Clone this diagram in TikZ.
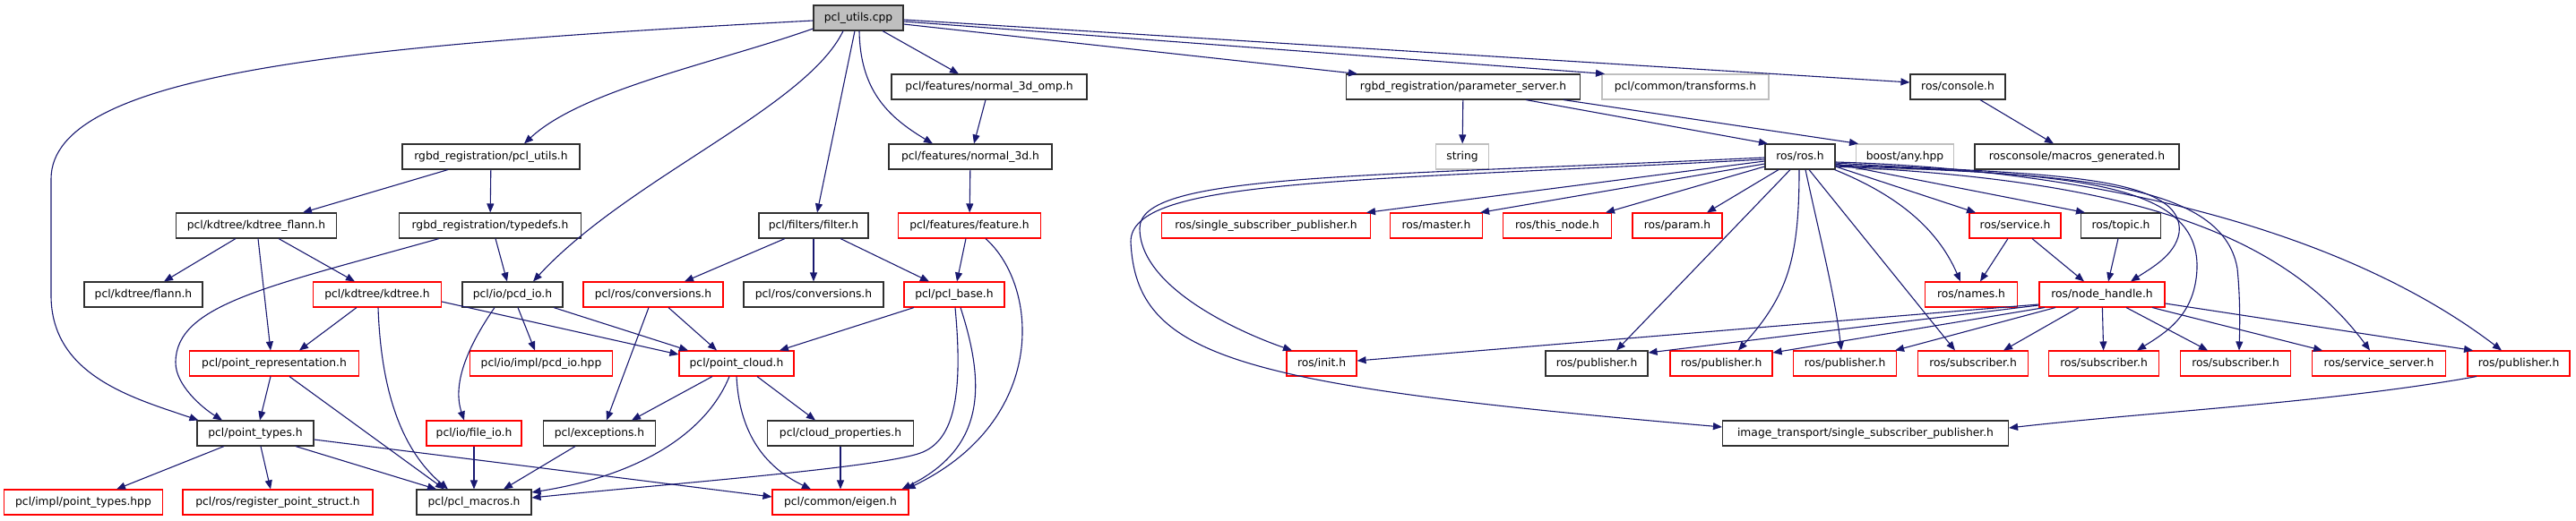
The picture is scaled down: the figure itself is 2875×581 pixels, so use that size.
\documentclass[tikz,border=0pt]{standalone}
\usepackage{fontspec}
\setmainfont{DejaVu Sans}
\usetikzlibrary{arrows.meta}
\definecolor{edgec}{HTML}{191970}
\definecolor{grayb}{HTML}{BFBFBF}
\definecolor{redb}{HTML}{FF0000}
\definecolor{blackb}{HTML}{303030}
\begin{document}
\begin{tikzpicture}[x=1pt,y=-1pt,
  box/.style={draw=blackb, line width=1.1pt, fill=white, minimum height=28pt, inner sep=0pt,
    font=\fontsize{12.3}{14}\selectfont, text height=9pt, text depth=2.5pt},
  rbox/.style={box, draw=redb},
  gbox/.style={box, draw=grayb},
  cppbox/.style={box, fill=grayb},
  e/.style={draw=edgec, line width=1.1pt, -{Triangle[length=10pt,width=8pt]}}]
\useasboundingbox (0,0) rectangle (2875,581);
% row 1
\node[cppbox, minimum width=100pt] (cpp) at (958,20) {pcl\_utils.cpp};
% row 2
\node[box, minimum width=218pt] (n3domp) at (1104,97) {pcl/features/normal\_3d\_omp.h};
\node[box, minimum width=261pt] (param) at (1633,97) {rgbd\_registration/parameter\_server.h};
\node[gbox, minimum width=186pt] (transforms) at (1881,97) {pcl/common/transforms.h};
\node[box, minimum width=106pt] (console) at (2185,97) {ros/console.h};
% row 3
\node[box, minimum width=198pt] (rpcl) at (548,175) {rgbd\_registration/pcl\_utils.h};
\node[box, minimum width=182pt] (n3d) at (1083,175) {pcl/features/normal\_3d.h};
\node[gbox, minimum width=59pt] (string) at (1632,175) {string};
\node[box, minimum width=78pt] (rosh) at (2009,175) {ros/ros.h};
\node[gbox, minimum width=109pt] (boost) at (2126,175) {boost/any.hpp};
\node[box, minimum width=228pt] (macros) at (2318,175) {rosconsole/macros\_generated.h};
% row 4
\node[box, minimum width=179pt] (kdflann) at (286,252) {pcl/kdtree/kdtree\_flann.h};
\node[box, minimum width=203pt] (typedefs) at (547,252) {rgbd\_registration/typedefs.h};
\node[box, minimum width=122pt] (filter) at (908,252) {pcl/filters/filter.h};
\node[rbox, minimum width=159pt] (feature) at (1082,252) {pcl/features/feature.h};
\node[rbox, minimum width=233pt] (ssp) at (1413,252) {ros/single\_subscriber\_publisher.h};
\node[rbox, minimum width=103pt] (master) at (1603,252) {ros/master.h};
\node[rbox, minimum width=121pt] (thisnode) at (1738,252) {ros/this\_node.h};
\node[rbox, minimum width=100pt] (paramh) at (1872,252) {ros/param.h};
\node[rbox, minimum width=102pt] (service) at (2249,252) {ros/service.h};
\node[box, minimum width=89pt] (topic) at (2367,252) {ros/topic.h};
% row 5
\node[box, minimum width=132pt] (flann) at (160,329) {pcl/kdtree/flann.h};
\node[rbox, minimum width=143pt] (kdtree) at (421,329) {pcl/kdtree/kdtree.h};
\node[box, minimum width=112pt] (pcdio) at (572,329) {pcl/io/pcd\_io.h};
\node[rbox, minimum width=156pt] (rconv) at (729,329) {pcl/ros/conversions.h};
\node[box, minimum width=156pt] (bconv) at (908,329) {pcl/ros/conversions.h};
\node[rbox, minimum width=112pt] (pclbase) at (1065,329) {pcl/pcl\_base.h};
\node[rbox, minimum width=103pt] (names) at (2200,329) {ros/names.h};
\node[rbox, minimum width=140pt] (nodeh) at (2346,329) {ros/node\_handle.h};
% row 6
\node[rbox, minimum width=189pt] (ptrep) at (306,406) {pcl/point\_representation.h};
\node[rbox, minimum width=159pt] (pcdhpp) at (604,406) {pcl/io/impl/pcd\_io.hpp};
\node[rbox, minimum width=128pt] (ptcloud) at (822,406) {pcl/point\_cloud.h};
\node[rbox, minimum width=78pt] (init) at (1475,406) {ros/init.h};
\node[box, minimum width=114pt] (pub0) at (1782,406) {ros/publisher.h};
\node[rbox, minimum width=114pt] (pub1) at (1921,406) {ros/publisher.h};
\node[rbox, minimum width=115pt] (pub2) at (2059,406) {ros/publisher.h};
\node[rbox, minimum width=123pt] (sub1) at (2202,406) {ros/subscriber.h};
\node[rbox, minimum width=123pt] (sub2) at (2348,406) {ros/subscriber.h};
\node[rbox, minimum width=123pt] (sub3) at (2495,406) {ros/subscriber.h};
\node[rbox, minimum width=149pt] (srvserver) at (2655,406) {ros/service\_server.h};
\node[rbox, minimum width=114pt] (pub3) at (2811,406) {ros/publisher.h};
% row 7
\node[box, minimum width=130pt] (pttypes) at (285,484) {pcl/point\_types.h};
\node[rbox, minimum width=106pt] (fileio) at (529,484) {pcl/io/file\_io.h};
\node[box, minimum width=125pt] (exceptions) at (669,484) {pcl/exceptions.h};
\node[box, minimum width=163pt] (cloudprop) at (938,484) {pcl/cloud\_properties.h};
\node[box, minimum width=319pt] (itssp) at (2082,484) {image\_transport/single\_subscriber\_publisher.h};
% row 8
\node[rbox, minimum width=177pt] (pthpp) at (93,561) {pcl/impl/point\_types.hpp};
\node[rbox, minimum width=212pt] (regpt) at (310,561) {pcl/ros/register\_point\_struct.h};
\node[box, minimum width=128pt] (pmacros) at (529,561) {pcl/pcl\_macros.h};
\node[rbox, minimum width=152pt] (eigen) at (938,561) {pcl/common/eigen.h};

% edges from pcl_utils.cpp
\draw[e] ([yshift=-3pt]cpp.west) .. controls (400,50) and (57,80) .. (57,200) -- (57,330) .. controls (57,420) and (150,445) .. ([xshift=2pt]pttypes.north west);
\draw[e] ([yshift=-12pt]cpp.west) .. controls (800,70) and (650,100) .. ([xshift=37pt]rpcl.north);
\draw[e] ([xshift=-17pt]cpp.south) .. controls (900,120) and (700,200) .. ([xshift=23pt]pcdio.north);
\draw[e] ([xshift=-4pt]cpp.south) -- ([xshift=4pt]filter.north);
\draw[e] ([xshift=27pt]cpp.south) -- ([xshift=-34pt]n3domp.north);
\draw[e] ([xshift=1pt]cpp.south) .. controls (960,100) and (990,130) .. ([xshift=-42pt]n3d.north);
\draw[e] ([yshift=-7pt]cpp.east) -- ([xshift=-118pt]param.north);
\draw[e] ([yshift=-4pt]cpp.east) -- ([xshift=-90pt]transforms.north);
\draw[e] ([yshift=-2pt]cpp.east) -- ([yshift=5pt]console.west);
% pcl side
\draw[e] ([xshift=-4pt]n3domp.south) -- ([xshift=4pt]n3d.north);
\draw[e] (param) -- (string);
\draw[e] ([xshift=70pt]param.south) -- ([xshift=-36pt]rosh.north);
\draw[e] ([xshift=112pt]param.south) -- ([xshift=-52pt]boost.north);
\draw[e] ([xshift=25pt]console.south) -- ([xshift=-26pt]macros.north);
\draw[e] (n3d) -- (feature);
\draw[e] ([xshift=-48pt]rpcl.south) -- ([xshift=52pt]kdflann.north);
\draw[e] (rpcl) -- (typedefs);
\draw[e] ([xshift=-23pt]kdflann.south) -- ([xshift=23pt]flann.north);
\draw[e] ([xshift=2pt]kdflann.south) -- ([xshift=-4pt]ptrep.north);
\draw[e] ([xshift=25pt]kdflann.south) -- ([xshift=-25pt]kdtree.north);
\draw[e] ([xshift=-57pt]typedefs.south) .. controls (300,320) and (196,340) .. (196,405) .. controls (196,430) and (225,455) .. ([xshift=-37pt]pttypes.north);
\draw[e] ([xshift=6pt]typedefs.south) -- ([xshift=-6pt]pcdio.north);
\draw[e] ([xshift=-32pt]filter.south) -- ([xshift=35pt]rconv.north);
\draw[e] (filter) -- (bconv);
\draw[e] ([xshift=30pt]filter.south) -- ([xshift=-28pt]pclbase.north);
\draw[e] ([xshift=-4pt]feature.south) -- ([xshift=3pt]pclbase.north);
\draw[e] ([xshift=18pt]feature.south) .. controls (1160,320) and (1170,470) .. ([xshift=-3pt]eigen.north east);
\draw[e] ([xshift=-45pt]pclbase.south) -- ([xshift=48pt]ptcloud.north);
\draw[e] ([xshift=1pt]pclbase.south) .. controls (1075,440) and (1065,490) .. (1030,505) .. controls (990,522) and (750,540) .. ([yshift=5pt]pmacros.east);
\draw[e] ([xshift=7pt]pclbase.south) .. controls (1100,430) and (1100,500) .. ([xshift=-8pt]eigen.north east);
\draw[e] ([xshift=-23pt]kdtree.south) -- ([xshift=28pt]ptrep.north);
\draw[e] ([xshift=1pt]kdtree.south) .. controls (425,430) and (445,500) .. ([xshift=-29pt]pmacros.north);
\draw[e] ([yshift=-8pt]kdtree.east) -- ([yshift=10pt]ptcloud.west);
\draw[e] ([xshift=-20pt]pcdio.south) .. controls (520,390) and (505,430) .. ([xshift=-11pt]fileio.north);
\draw[e] ([xshift=6pt]pcdio.south) -- ([xshift=-7pt]pcdhpp.north);
\draw[e] ([xshift=46pt]pcdio.south) -- ([xshift=-54pt]ptcloud.north);
\draw[e] ([xshift=-5pt]rconv.south) -- ([xshift=8pt]exceptions.north);
\draw[e] ([xshift=17pt]rconv.south) -- ([xshift=-22pt]ptcloud.north);
\draw[e] ([xshift=-4pt]ptrep.south) -- ([xshift=5pt]pttypes.north);
\draw[e] ([xshift=17pt]ptrep.south) -- ([xshift=-33pt]pmacros.north);
\draw[e] ([xshift=-27pt]ptcloud.south) -- ([xshift=36pt]exceptions.north);
\draw[e] ([xshift=-8pt]ptcloud.south) .. controls (790,480) and (720,530) .. ([yshift=11pt]pmacros.east);
\draw[e] (ptcloud.south) .. controls (825,480) and (850,520) .. ([xshift=-33pt]eigen.north);
\draw[e] ([xshift=23pt]ptcloud.south) -- ([xshift=-28pt]cloudprop.north);
\draw[e] ([xshift=-35pt]pttypes.south) -- ([xshift=37pt]pthpp.north);
\draw[e] ([xshift=6pt]pttypes.south) -- ([xshift=-8pt]regpt.north);
\draw[e] ([xshift=45pt]pttypes.south) -- ([xshift=-42pt]pmacros.north);
\draw[e] ([yshift=-7pt]pttypes.east) -- ([yshift=6pt]eigen.west);
\draw[e] (fileio) -- (pmacros);
\draw[e] ([xshift=-27pt]exceptions.south) -- ([xshift=33pt]pmacros.north);
\draw[e] (cloudprop) -- (eigen);
% ros side
\draw[e] ([yshift=-5pt]rosh.west) -- ([xshift=112pt]ssp.north);
\draw[e] ([yshift=-8pt]rosh.west) -- ([xshift=-3pt]master.north east);
\draw[e] ([yshift=-11pt]rosh.west) -- ([xshift=54pt]thisnode.north);
\draw[e] ([xshift=-24pt]rosh.south) -- ([xshift=33pt]paramh.north);
\draw[e] ([yshift=-1pt]rosh.west) .. controls (1500,198) and (1272,195) .. (1272,255) .. controls (1272,320) and (1380,370) .. ([xshift=-33pt]init.north);
\draw[e] ([yshift=-3pt]rosh.west) .. controls (1500,203) and (1262,200) .. (1262,270) .. controls (1268,400) and (1380,430) .. ([yshift=7pt]itssp.west);
\draw[e] ([xshift=-11pt]rosh.south) -- ([xshift=22pt]pub0.north);
\draw[e] ([xshift=-1pt]rosh.south) .. controls (2008,290) and (1995,330) .. ([xshift=19pt]pub1.north);
\draw[e] ([xshift=6pt]rosh.south) .. controls (2030,260) and (2048,330) .. ([xshift=-4pt]pub2.north);
\draw[e] ([xshift=10pt]rosh.south) -- ([xshift=-20pt]sub1.north);
\draw[e] ([xshift=-1pt]rosh.south east) .. controls (2110,215) and (2160,250) .. ([xshift=-12pt]names.north);
\draw[e] ([yshift=-11pt]rosh.east) -- ([xshift=-44pt]service.north);
\draw[e] ([yshift=-8pt]rosh.east) -- ([xshift=-40pt]topic.north);
\draw[e] ([yshift=-7pt]rosh.east) .. controls (2250,195) and (2440,190) .. (2432,260) .. controls (2428,285) and (2400,300) .. ([xshift=32pt]nodeh.north);
\draw[e] ([yshift=-9pt]rosh.east) .. controls (2300,195) and (2455,200) .. (2452,300) .. controls (2450,350) and (2420,370) .. ([xshift=37pt]sub2.north);
\draw[e] ([yshift=-10pt]rosh.east) .. controls (2300,195) and (2480,200) .. (2497,300) .. controls (2500,330) and (2500,360) .. ([xshift=4pt]sub3.north);
\draw[e] ([yshift=-11pt]rosh.east) .. controls (2350,200) and (2540,250) .. ([xshift=-10pt]srvserver.north);
\draw[e] ([yshift=-6pt]rosh.east) .. controls (2350,190) and (2620,260) .. ([xshift=-19pt]pub3.north);
\draw[e] ([xshift=-8pt]service.south) -- ([xshift=10pt]names.north);
\draw[e] ([xshift=19pt]service.south) -- ([xshift=-20pt]nodeh.north);
\draw[e] ([xshift=-3pt]topic.south) -- ([xshift=7pt]nodeh.north);
\draw[e] ([yshift=-11pt]nodeh.west) -- ([yshift=3pt]init.east);
\draw[e] ([yshift=-12pt]nodeh.west) -- ([yshift=12pt]pub0.east);
\draw[e] ([xshift=-64pt]nodeh.south) -- ([yshift=12pt]pub1.east);
\draw[e] ([xshift=-52pt]nodeh.south) -- ([xshift=-2pt]pub2.north east);
\draw[e] ([xshift=-26pt]nodeh.south) -- ([xshift=34pt]sub1.north);
\draw[e] (nodeh) -- (sub2);
\draw[e] ([xshift=27pt]nodeh.south) -- ([xshift=-31pt]sub3.north);
\draw[e] ([xshift=56pt]nodeh.south) -- ([xshift=-63pt]srvserver.north);
\draw[e] ([yshift=-10pt]nodeh.east) -- ([xshift=-51pt]pub3.north);
\draw[e] ([xshift=-47pt]pub3.south) .. controls (2600,450) and (2400,460) .. ([yshift=6pt]itssp.east);
\end{tikzpicture}
\end{document}
